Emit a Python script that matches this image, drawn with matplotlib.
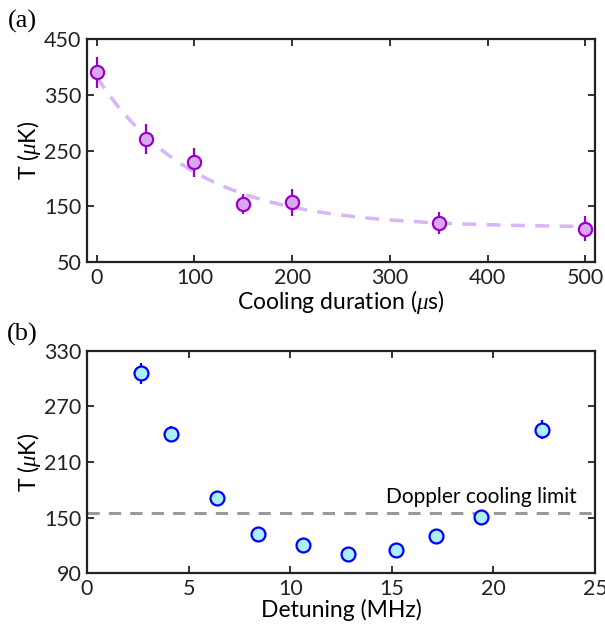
import numpy as np
import matplotlib
matplotlib.use('Agg')
import matplotlib.pyplot as plt

plt.rcParams['font.family'] = ['Lato', 'DejaVu Sans']
plt.rcParams['mathtext.fontset'] = 'custom'
plt.rcParams['mathtext.it'] = 'Liberation Serif:italic'

# panel (a): temperature vs cooling duration
dur = [0, 50, 100, 150, 200, 350, 500]
temp_a = [390, 270, 229, 154, 157, 120, 110]
err_a = [28, 27, 26, 18, 24, 20, 23]
# exponential fit T = A*exp(-t/tau) + C
fit_A = 270
fit_tau = 100
fit_C = 112

# panel (b): temperature vs detuning
det = [2.64, 4.15, 6.42, 8.4, 10.62, 12.82, 15.2, 17.18, 19.4, 22.4]
temp_b = [305.5, 240.5, 171.5, 132, 120.5, 110.5, 115, 130.5, 151, 245]
err_b = [11, 8, 3, 3, 3, 3, 3, 3, 3, 10]
doppler = 155

fig = plt.figure(figsize=(6.05, 6.27), dpi=100)
ax1 = fig.add_axes([0.1438, 0.5821, 0.8397, 0.3557])
ax2 = fig.add_axes([0.1438, 0.0856, 0.8397, 0.3551])

tt = np.linspace(0, 500, 200)
ax1.plot(tt, fit_A*np.exp(-tt/fit_tau) + fit_C, '--', color='#d8b4f8', lw=2.5, dashes=(4, 3), zorder=1)
ax1.errorbar(dur, temp_a, yerr=err_a, fmt='o', ms=9.5, mfc='#d9a8f0', mec='#9a00c8', mew=1.6,
             ecolor='#9a00c8', elinewidth=1.6, capsize=0, zorder=3)
ax1.set_xlim(-10, 510)
ax1.set_ylim(50, 450)
ax1.set_xticks([0, 100, 200, 300, 400, 500])
ax1.set_yticks([50, 150, 250, 350, 450])
ax1.set_xlabel(r'Cooling duration ($\mu$s)', fontsize=16.5, labelpad=0)
ax1.set_ylabel(r'T ($\mu$K)', fontsize=16.5, labelpad=1)

ax2.axhline(doppler, color='#999999', ls='--', lw=2.2, dashes=(4, 3), zorder=1)
ax2.errorbar(det, temp_b, yerr=err_b, fmt='o', ms=10, mfc='#aaeeff', mec='#0000ff', mew=1.6,
             ecolor='#0000ff', elinewidth=1.6, capsize=0, zorder=3)
ax2.text(24.1, doppler + 6, 'Doppler cooling limit', fontsize=15, ha='right', va='bottom')
ax2.set_xlim(0, 25)
ax2.set_ylim(90, 330)
ax2.set_xticks([0, 5, 10, 15, 20, 25])
ax2.set_yticks([90, 150, 210, 270, 330])
ax2.set_xlabel('Detuning (MHz)', fontsize=16.5, labelpad=0)
ax2.set_ylabel(r'T ($\mu$K)', fontsize=16.5, labelpad=1)

for ax in (ax1, ax2):
    ax.tick_params(direction='in', top=True, right=True, length=5, width=1.3,
                   labelsize=15.5, color='#222222', labelcolor='#222222', pad=4)
    for s in ax.spines.values():
        s.set_linewidth(1.6)
        s.set_color('#222222')

fig.text(0.037, 0.966, '(a)', fontsize=19, family='Liberation Serif', ha='center', va='center')
fig.text(0.037, 0.466, '(b)', fontsize=19, family='Liberation Serif', ha='center', va='center')

fig.savefig('out.png', dpi=100)
